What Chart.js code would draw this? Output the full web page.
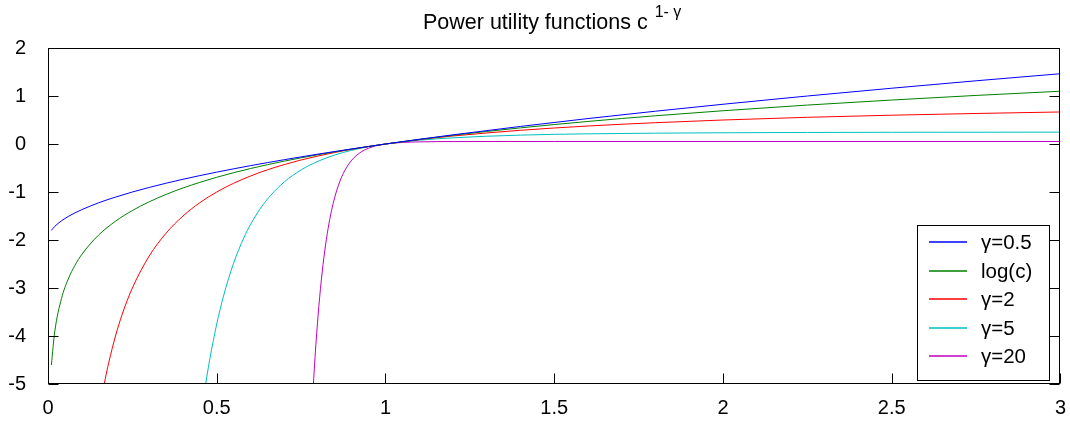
<!DOCTYPE html>
<html><head><meta charset="utf-8">
<script src="https://cdn.jsdelivr.net/npm/chart.js@4.4.1/dist/chart.umd.min.js"></script>
<style>html,body{margin:0;padding:0;background:#fff;}#wrap{position:relative;width:1070px;height:421px;}</style>
</head><body><div id="wrap"><canvas id="c" width="1070" height="421"></canvas></div>
<script>
const titleMain = 'Power utility functions c';
const titleSup = '1- \u03b3';
const xTicks = [0, 0.5, 1, 1.5, 2, 2.5, 3];
const yTicks = [-5, -4, -3, -2, -1, 0, 1, 2];
const seriesLabels = ['\u03b3=0.5', 'log(c)', '\u03b3=2', '\u03b3=5', '\u03b3=20'];
const seriesColors = ['#0000ff', '#008000', '#ff0000', '#00bfbf', '#bf00bf'];

const cHalf = [0.01,0.02,0.04,0.06,0.08,0.1,0.15,0.2,0.25,0.3,0.35,0.4,0.45,0.5,0.55,0.6,0.65,0.7,0.75,0.8,0.85,0.9,0.95,1,1.1,1.2,1.4,1.6,1.8,2,2.25,2.5,2.75,3];
const uHalf = [-1.8,-1.717,-1.6,-1.51,-1.434,-1.368,-1.225,-1.106,-1.0,-0.905,-0.817,-0.735,-0.658,-0.586,-0.517,-0.451,-0.388,-0.327,-0.268,-0.211,-0.156,-0.103,-0.051,0,0.098,0.191,0.366,0.53,0.683,0.828,1.0,1.162,1.317,1.464];

const cLog = [0.01,0.02,0.04,0.06,0.08,0.1,0.15,0.2,0.25,0.3,0.35,0.4,0.45,0.5,0.55,0.6,0.65,0.7,0.75,0.8,0.85,0.9,0.95,1,1.1,1.2,1.4,1.6,1.8,2,2.25,2.5,2.75,3];
const uLog = [-4.605,-3.912,-3.219,-2.813,-2.526,-2.303,-1.897,-1.609,-1.386,-1.204,-1.05,-0.916,-0.799,-0.693,-0.598,-0.511,-0.431,-0.357,-0.288,-0.223,-0.163,-0.105,-0.051,0,0.095,0.182,0.336,0.47,0.588,0.693,0.811,0.916,1.012,1.099];

const c2 = [0.15,0.17,0.18,0.2,0.22,0.25,0.3,0.35,0.4,0.45,0.5,0.55,0.6,0.65,0.7,0.75,0.8,0.85,0.9,0.95,1,1.1,1.2,1.4,1.6,1.8,2,2.25,2.5,2.75,3];
const u2 = [-5.667,-4.882,-4.556,-4.0,-3.545,-3.0,-2.333,-1.857,-1.5,-1.222,-1.0,-0.818,-0.667,-0.538,-0.429,-0.333,-0.25,-0.176,-0.111,-0.053,0,0.091,0.167,0.286,0.375,0.444,0.5,0.556,0.6,0.636,0.667];

const c5 = [0.46,0.47,0.48,0.5,0.52,0.55,0.58,0.6,0.63,0.66,0.7,0.75,0.8,0.85,0.9,0.95,1,1.1,1.2,1.4,1.6,2,2.5,3];
const u5 = [-5.334,-4.873,-4.46,-3.75,-3.169,-2.482,-1.959,-1.679,-1.337,-1.068,-0.791,-0.54,-0.36,-0.229,-0.131,-0.057,0,0.079,0.129,0.185,0.212,0.234,0.244,0.247];

const c20 = [0.78,0.79,0.8,0.81,0.82,0.83,0.84,0.85,0.86,0.87,0.88,0.9,0.92,0.94,0.96,0.98,1,1.05,1.1,1.2,1.5,2,3];
const u20 = [-5.856,-4.586,-3.599,-2.831,-2.232,-1.762,-1.393,-1.102,-0.872,-0.689,-0.545,-0.337,-0.204,-0.118,-0.062,-0.025,0,0.032,0.044,0.051,0.0526,0.0526,0.0526];

const seriesX = [cHalf, cLog, c2, c5, c20];
const seriesY = [uHalf, uLog, u2, u5, u20];

const FONT = '"Liberation Sans", Arial, Helvetica, sans-serif';

const datasets = seriesLabels.map((lab, i) => ({
  label: lab,
  data: seriesX[i].map((x, j) => ({x: x, y: seriesY[i][j]})),
  borderColor: seriesColors[i],
  backgroundColor: seriesColors[i],
  borderWidth: 1,
  pointRadius: 0,
  fill: false,
  cubicInterpolationMode: 'monotone'
}));

const framePlugin = {
  id: 'frame',
  afterDatasetsDraw(chart) {
    const ctx = chart.ctx, a = chart.chartArea;
    const xs = chart.scales.x, ys = chart.scales.y;
    ctx.save();
    ctx.strokeStyle = '#000';
    ctx.lineWidth = 1;
    const L = Math.round(a.left) + 0.5, R = Math.round(a.right) - 0.5;
    const T = Math.round(a.top) + 0.5, B = Math.round(a.bottom) - 0.5;
    ctx.beginPath();
    yTicks.forEach(v => {
      const y = Math.round(ys.getPixelForValue(v)) + 0.5;
      ctx.moveTo(L, y); ctx.lineTo(L + 10, y);
      ctx.moveTo(R, y); ctx.lineTo(R - 10, y);
    });
    xTicks.forEach(v => {
      const x = Math.round(xs.getPixelForValue(v)) + 0.5;
      ctx.moveTo(x, B); ctx.lineTo(x, B - 10);
    });
    ctx.stroke();
    ctx.strokeRect(L, T, R - L, B - T);
    ctx.restore();
  },
  afterDraw(chart) {
    const ctx = chart.ctx, a = chart.chartArea;
    ctx.save();
    // legend
    const bw = 132, bh = 155;
    const bx = Math.round(a.right) - 11 - bw, by = Math.round(a.bottom) - 4 - bh;
    ctx.fillStyle = '#fff';
    ctx.fillRect(bx, by, bw, bh);
    ctx.strokeStyle = '#000';
    ctx.lineWidth = 1;
    ctx.strokeRect(bx + 0.5, by + 0.5, bw, bh);
    ctx.font = '20.5px ' + FONT;
    ctx.textBaseline = 'middle';
    ctx.textAlign = 'left';
    chart.data.datasets.forEach((ds, i) => {
      const y = Math.round(by + 17 + i * 28.5);
      ctx.lineWidth = 1.5;
      ctx.strokeStyle = ds.borderColor;
      ctx.beginPath(); ctx.moveTo(bx + 12, y); ctx.lineTo(bx + 50, y); ctx.stroke();
      ctx.fillStyle = '#000';
      ctx.fillText(ds.label, bx + 64, y + 1);
    });
    // title
    ctx.fillStyle = '#000';
    ctx.textBaseline = 'alphabetic';
    ctx.font = '21.5px ' + FONT;
    ctx.fillText(titleMain, 423, 29);
    const w = ctx.measureText(titleMain).width;
    ctx.font = '16px ' + FONT;
    ctx.fillText(titleSup, 423 + w + 7, 17);
    ctx.restore();
  }
};

new Chart(document.getElementById('c'), {
  type: 'line',
  data: {datasets: datasets},
  options: {
    responsive: false,
    animation: false,
    devicePixelRatio: 1,
    layout: {padding: {top: 48, right: 7, left: 0, bottom: 0}},
    plugins: {legend: {display: false}, title: {display: false}, tooltip: {enabled: false}},
    elements: {line: {tension: 0}},
    scales: {
      x: {
        type: 'linear', min: 0, max: 3,
        grid: {display: false}, border: {display: false},
        afterBuildTicks(s) { s.ticks = xTicks.map(v => ({value: v})); },
        afterFit(s) { s.height = 37; },
        ticks: {color: '#000', font: {family: FONT, size: 20}, padding: 4, maxRotation: 0, autoSkip: false,
          callback: v => String(v)}
      },
      y: {
        type: 'linear', min: -5, max: 2,
        grid: {display: false}, border: {display: false},
        afterBuildTicks(s) { s.ticks = yTicks.map(v => ({value: v})); },
        afterFit(s) { s.width = 48; },
        ticks: {color: '#000', font: {family: FONT, size: 20}, padding: 14, autoSkip: false,
          callback: v => String(v)}
      }
    }
  },
  plugins: [framePlugin]
});
</script></body></html>
